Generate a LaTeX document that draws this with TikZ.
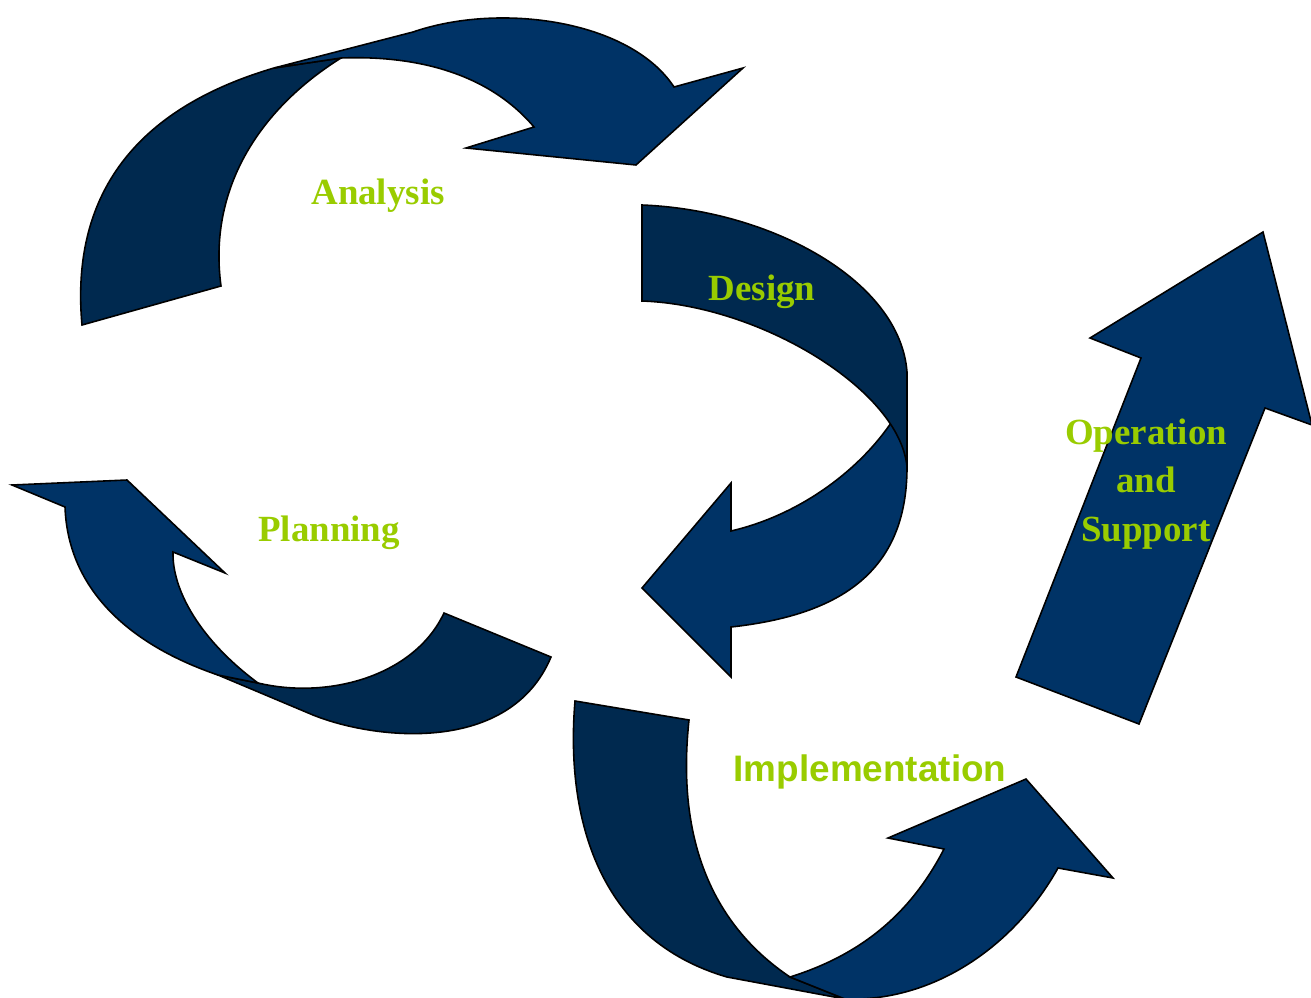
\documentclass[tikz,border=0pt]{standalone}
\usepackage{fontspec}
\setmainfont{Liberation Serif}
\setsansfont{Liberation Sans}
\usepackage{tikz}

\definecolor{frontblue}{RGB}{0,51,102}
\definecolor{backblue}{RGB}{0,41,79}
\definecolor{stagegreen}{RGB}{153,204,0}

\tikzset{
  ribbonfront/.style={fill=frontblue, draw=black, line width=0.9pt},
  ribbonback/.style={fill=backblue, draw=black, line width=0.9pt},
  stage/.style={text=stagegreen, inner sep=0pt, align=center,
    font=\fontsize{21}{27.4}\selectfont\bfseries},
  stagesans/.style={stage, font=\fontsize{21}{27.4}\selectfont\sffamily\bfseries},
}

\begin{document}
\begin{tikzpicture}[x=0.02cm, y=-0.02cm]
  \useasboundingbox (0,0) rectangle (1311,997);
  \clip (0,0) rectangle (1311,997);

  % Analysis arrow
  \filldraw[ribbonback] (82,325) -- (221,286)
    .. controls (208,190) and (258,110) .. (341,58)
    -- (274,68)
    .. controls (165,100) and (68,170) .. (82,325)
    -- cycle;
  \filldraw[ribbonfront] (274,68) -- (413,32)
    .. controls (500,2) and (630,20) .. (674,87)
    -- (743,68) -- (636,165) -- (466,148) -- (534,127)
    .. controls (490,75) and (420,55) .. (341,58)
    -- cycle;

  % Design arrow
  \filldraw[ribbonfront] (893,420) -- (907,420) -- (907,467)
    .. controls (907,572) and (840,615) .. (731,627)
    -- (731,677) -- (642,588) -- (731,483) -- (731,531)
    .. controls (800,515) and (860,470) .. (893,420)
    -- cycle;
  \filldraw[ribbonback] (642,205) -- (642,301)
    .. controls (760,305) and (900,390) .. (907,467)
    -- (907,372)
    .. controls (900,280) and (770,210) .. (642,205)
    -- cycle;

  % Planning arrow
  \filldraw[ribbonback] (218,675) -- (313,715)
    .. controls (375,740) and (510,755) .. (551,657)
    -- (444,613)
    .. controls (415,675) and (330,700) .. (258,683)
    -- cycle;
  \filldraw[ribbonfront] (258,683)
    .. controls (200,640) and (172,590) .. (173,552)
    -- (225,573) -- (127,480) -- (12,485) -- (65,507)
    .. controls (68,590) and (130,645) .. (218,675)
    -- cycle;

  % Implementation arrow
  \filldraw[ribbonback] (575,701) -- (689,720)
    .. controls (675,850) and (720,930) .. (790,977)
    -- (845,999) -- (727,977)
    .. controls (600,940) and (565,820) .. (575,701)
    -- cycle;
  \filldraw[ribbonfront] (790,977) -- (845,999)
    .. controls (935,1002) and (1015,945) .. (1058,868)
    -- (1113,878) -- (1026,779) -- (888,838) -- (944,849)
    .. controls (910,915) and (860,955) .. (790,977)
    -- cycle;

  % Operation arrow
  \filldraw[ribbonfront] (1016,677) -- (1139,724) -- (1265,408) -- (1312,425)
    -- (1263,232) -- (1090,338) -- (1141,358) -- cycle;

  % Labels
  \node[stage, anchor=base] (analysis) at (378,204) {Analysis};
  \node[stage, anchor=base] (design) at (762,300) {Design};
  \node[stage, anchor=base] (planning) at (329,541) {Planning};
  \node[stagesans, anchor=base] (implementation) at (870,781) {Implementation};
  \node[stage] (operation) at (1146,484) {Operation\\and\\Support};
\end{tikzpicture}
\end{document}
